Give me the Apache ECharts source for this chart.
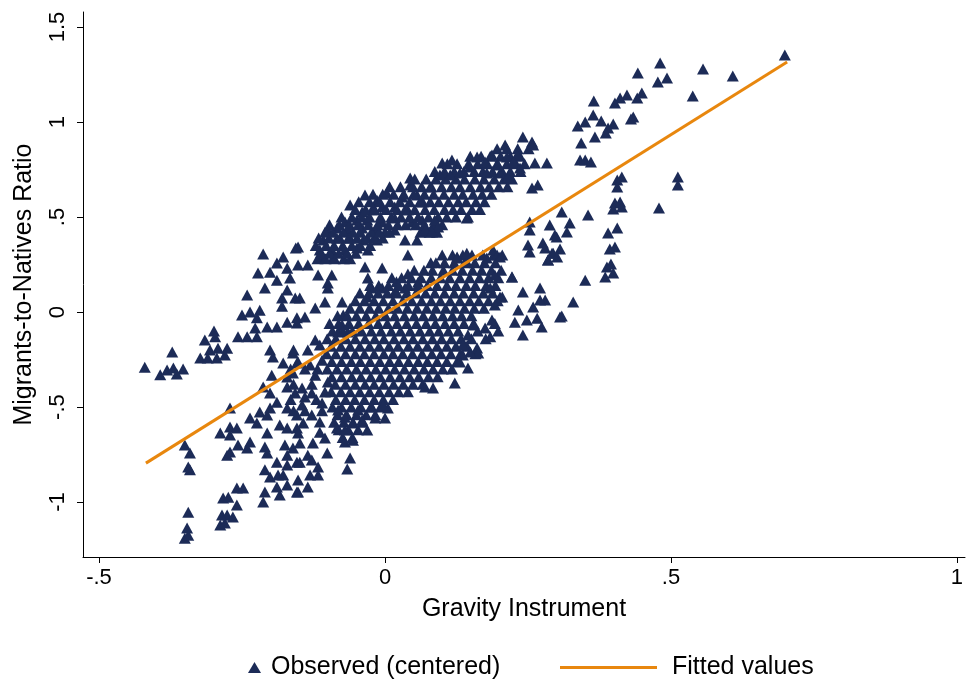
<!DOCTYPE html>
<html>
<head>
<meta charset="utf-8">
<script src="https://cdn.jsdelivr.net/npm/echarts@6/dist/echarts.min.js"></script>
<style>
  html, body { margin: 0; padding: 0; background: #fff; }
  #chart { width: 968px; height: 684px; }
</style>
</head>
<body>
<div id="chart"></div>
<script>
// observed points (x = gravity instrument, y = ratio)
const leftArm = [
  [-0.213,0.305],[-0.178,0.29],[-0.156,0.337],[-0.189,0.258],[-0.222,0.205],[-0.201,0.21],[-0.171,0.23],
  [-0.189,0.168],[-0.166,0.179],[-0.21,0.126],[-0.171,0.116],[-0.18,0.074],[-0.157,0.074],[-0.18,0.03],
  [-0.241,0.09],[-0.25,-0.016],[-0.236,0.0],[-0.219,0.01],[-0.224,-0.03],[-0.227,-0.084],[-0.206,-0.079],
  [-0.189,-0.079],[-0.171,-0.053],[-0.154,-0.03],[-0.257,-0.13],[-0.241,-0.13],[-0.224,-0.13],[-0.299,-0.1],
  [-0.315,-0.147],[-0.297,-0.13],[-0.306,-0.2],[-0.292,-0.19],[-0.276,-0.19],[-0.323,-0.242],[-0.31,-0.242],
  [-0.294,-0.242],[-0.28,-0.226],[-0.372,-0.21],[-0.42,-0.29],[-0.393,-0.33],[-0.381,-0.305],[-0.37,-0.295],
  [-0.353,-0.3],[-0.364,-0.326],[-0.201,-0.2],[-0.196,-0.237],[-0.178,-0.268],[-0.161,-0.216],[-0.154,-0.268],
  [-0.198,-0.332],[-0.171,-0.342],[-0.161,-0.321],[-0.213,-0.395],[-0.201,-0.426],[-0.171,-0.395],[-0.157,-0.426],
  [-0.16,-0.2],[-0.135,-0.2],[-0.165,-0.3],[-0.14,-0.3],[-0.118,-0.3],[-0.16,-0.38],[-0.128,-0.38],
  [-0.165,-0.46],[-0.12,-0.46],[-0.16,-0.52],[-0.14,-0.52],[-0.11,-0.52]
];
const lowerLeft = [
  [-0.35,-0.7],[-0.341,-0.742],[-0.341,-0.83],[-0.344,-0.816],[-0.344,-1.053],[-0.346,-1.137],[-0.35,-1.19],
  [-0.344,-1.174],[-0.288,-0.637],[-0.271,-0.605],[-0.271,-0.647],[-0.259,-0.61],[-0.276,-0.753],[-0.271,-0.737],
  [-0.257,-0.7],[-0.236,-0.684],[-0.241,-0.716],[-0.259,-0.926],[-0.248,-0.926],[-0.283,-0.979],[-0.274,-0.974],
  [-0.259,-1.016],[-0.285,-1.068],[-0.276,-1.068],[-0.266,-1.079],[-0.288,-1.121],[-0.28,-1.11],[-0.271,-0.505],
  [-0.236,-0.558],[-0.224,-0.584],[-0.219,-0.526],[-0.206,-0.542],[-0.201,-0.505],[-0.206,-0.637],[-0.21,-0.71],
  [-0.206,-0.742],[-0.21,-0.83],[-0.201,-0.868],[-0.187,-0.858],[-0.21,-0.947],[-0.213,-1.0],[-0.184,-0.963],
  [-0.178,-0.858],[-0.171,-0.91],[-0.154,-0.947],[-0.184,-0.595],[-0.189,-0.474],[-0.171,-0.505],[-0.154,-0.542],
  [-0.171,-0.61],[-0.154,-0.61],[-0.175,-0.7],[-0.161,-0.716],[-0.171,-0.753],[-0.154,-0.79],[-0.171,-0.805],
  [-0.189,-0.79],[-0.189,-0.921]
];
const upperBand = [
  [0.044,0.705],[0.044,0.668],[-0.035,0.616],[0.003,0.626],[-0.014,0.589],[0.03,0.605],[0.056,0.616],
  [0.066,0.579],[-0.061,0.563],[-0.04,0.526],[-0.023,0.537],[-0.005,0.553],[0.017,0.553],[0.04,0.537],
  [-0.07,0.474],[-0.049,0.484],[-0.031,0.484],[-0.005,0.474],[0.017,0.495],[0.047,0.474],[0.065,0.484],
  [-0.084,0.442],[-0.1,0.432],[-0.065,0.432],[-0.04,0.442],[-0.017,0.432],[0.0,0.421],[0.017,0.432],
  [-0.108,0.379],[-0.084,0.389],[-0.061,0.389],[-0.038,0.379],[-0.014,0.379],[0.035,0.379],[0.056,0.379],
  [-0.114,0.326],[-0.093,0.326],[-0.07,0.326],[-0.049,0.337],[-0.03,0.326],[0.04,0.3],[-0.152,0.342],
  [-0.108,0.284],[-0.091,0.284],[-0.135,0.247],[-0.152,0.247]
];
// the solid core of the upper band, row by row: [y, x values]
const upperCoreRows = [
  [0.28, [-0.118, -0.104, -0.088, -0.072, -0.061]],
  [0.31, [-0.112, -0.097, -0.081, -0.066, -0.051]],
  [0.35, [-0.121, -0.103, -0.089, -0.074, -0.058, -0.043, -0.026]],
  [0.39, [-0.116, -0.098, -0.079, -0.064, -0.049, -0.031, -0.019, -0.004]],
  [0.42, [-0.105, -0.091, -0.073, -0.056, -0.043, -0.024, -0.01, 0.008, 0.062, 0.078, 0.091]],
  [0.46, [-0.097, -0.08, -0.062, -0.047, -0.029, -0.013, 0.006, 0.022, 0.036, 0.054, 0.069, 0.085, 0.1]],
  [0.50, [-0.076, -0.058, -0.041, -0.027, -0.008, 0.011, 0.028, 0.043, 0.058, 0.076, 0.093, 0.108, 0.124]],
  [0.54, [-0.052, -0.034, -0.018, 0.002, 0.021, 0.035, 0.052, 0.07, 0.086, 0.104, 0.119, 0.133, 0.152, 0.166]],
  [0.58, [-0.046, -0.027, -0.009, 0.009, 0.026, 0.043, 0.061, 0.079, 0.094, 0.111, 0.128, 0.142, 0.159, 0.174]],
  [0.62, [-0.021, -0.004, 0.015, 0.033, 0.05, 0.069, 0.085, 0.103, 0.121, 0.136, 0.154, 0.17, 0.186]],
  [0.66, [0.008, 0.027, 0.049, 0.064, 0.081, 0.099, 0.116, 0.131, 0.149, 0.167, 0.182, 0.199, 0.214]],
  [0.70, [0.052, 0.072, 0.089, 0.106, 0.124, 0.139, 0.157, 0.173, 0.191, 0.208, 0.222]],
  [0.74, [0.087, 0.104, 0.121, 0.138, 0.156, 0.171, 0.188, 0.205, 0.219, 0.237]],
  [0.78, [0.109, 0.126, 0.146, 0.162, 0.179, 0.196, 0.213, 0.229, 0.244]],
  [0.82, [0.149, 0.168, 0.184, 0.202, 0.219, 0.236]],
  [0.86, [0.196, 0.213, 0.232, 0.251]]
];
const centralCloud = [
  [-0.1,0.153],[-0.1,0.126],[-0.117,0.195],[-0.093,0.195],[-0.075,0.053],[-0.105,0.053],[-0.122,0.021],
  [-0.149,0.074],[-0.14,-0.026],[-0.154,-0.058],[-0.03,0.179],[-0.031,0.079],[-0.005,0.126],[-0.023,0.126],
  [-0.005,0.232],[-0.035,0.237],[0.017,0.105],[0.035,0.126],[0.058,0.158],[-0.075,-0.068],[-0.082,-0.105],
  [-0.065,-0.105],[-0.122,-0.147],[-0.114,-0.174],[-0.11,-0.253],[-0.1,-0.368],[-0.105,-0.421],[-0.128,-0.426],
  [-0.145,-0.4],[-0.152,-0.263],[-0.14,-0.447],[-0.073,-0.016],[-0.131,-0.279],[-0.122,-0.332],
  [0.02,0.16],[0.04,0.2],[0.08,0.26],[0.1,0.3]
];
// the solid core of the lower cloud, row by row: [y, x values]
const lowerCoreRows = [
  [0.30, [0.118, 0.136, 0.152, 0.171, 0.19]],
  [0.26, [0.089, 0.104, 0.121, 0.139, 0.157, 0.174, 0.193]],
  [0.22, [0.051, 0.068, 0.083, 0.102, 0.118, 0.135, 0.153, 0.169, 0.186, 0.203]],
  [0.18, [0.012, 0.029, 0.046, 0.063, 0.081, 0.097, 0.113, 0.131, 0.148, 0.165, 0.181, 0.198]],
  [0.14, [-0.026, -0.011, 0.006, 0.024, 0.041, 0.057, 0.074, 0.091, 0.108, 0.124, 0.142, 0.158, 0.177, 0.193]],
  [0.10, [-0.044, -0.028, -0.012, 0.004, 0.021, 0.038, 0.054, 0.071, 0.087, 0.104, 0.121, 0.137, 0.155, 0.172, 0.188]],
  [0.06, [-0.052, -0.036, -0.019, -0.003, 0.014, 0.031, 0.047, 0.064, 0.081, 0.097, 0.114, 0.131, 0.148, 0.164, 0.181, 0.197]],
  [0.02, [-0.061, -0.044, -0.027, -0.011, 0.006, 0.022, 0.039, 0.056, 0.073, 0.089, 0.106, 0.122, 0.139, 0.156, 0.173]],
  [-0.02, [-0.083, -0.066, -0.05, -0.033, -0.016, 0.001, 0.017, 0.034, 0.051, 0.067, 0.084, 0.101, 0.118, 0.134, 0.151]],
  [-0.06, [-0.097, -0.081, -0.063, -0.046, -0.029, -0.012, 0.004, 0.021, 0.038, 0.055, 0.072, 0.088, 0.105, 0.121, 0.138, 0.155, 0.192]],
  [-0.10, [-0.092, -0.074, -0.057, -0.041, -0.024, -0.007, 0.011, 0.027, 0.044, 0.061, 0.078, 0.094, 0.111, 0.128, 0.162, 0.198]],
  [-0.14, [-0.101, -0.086, -0.068, -0.052, -0.035, -0.018, -0.002, 0.016, 0.033, 0.049, 0.066, 0.083, 0.099, 0.116, 0.133, 0.151, 0.176]],
  [-0.18, [-0.094, -0.077, -0.061, -0.044, -0.027, -0.01, 0.007, 0.023, 0.041, 0.057, 0.074, 0.091, 0.108, 0.124, 0.143]],
  [-0.22, [-0.102, -0.086, -0.069, -0.052, -0.036, -0.019, -0.002, 0.014, 0.031, 0.048, 0.065, 0.082, 0.098, 0.115, 0.132, 0.158]],
  [-0.26, [-0.093, -0.076, -0.059, -0.043, -0.026, -0.009, 0.008, 0.024, 0.041, 0.058, 0.074, 0.091, 0.108, 0.126]],
  [-0.30, [-0.101, -0.084, -0.067, -0.05, -0.033, -0.016, 0.001, 0.017, 0.034, 0.051, 0.068, 0.084, 0.101, 0.117]],
  [-0.34, [-0.093, -0.076, -0.058, -0.042, -0.025, -0.008, 0.009, 0.026, 0.043, 0.059, 0.076, 0.092]],
  [-0.38, [-0.087, -0.069, -0.052, -0.035, -0.019, -0.002, 0.015, 0.032, 0.049, 0.066]],
  [-0.42, [-0.094, -0.077, -0.061, -0.044, -0.027, -0.01, 0.007, 0.024, 0.04]],
  [-0.46, [-0.086, -0.069, -0.053, -0.036, -0.019, -0.003, 0.014]],
  [-0.50, [-0.092, -0.076, -0.059, -0.042, -0.025, -0.008]],
  [-0.54, [-0.083, -0.067, -0.05, -0.033, -0.017]],
  [-0.58, [-0.089, -0.072, -0.056, -0.039]],
  [-0.62, [-0.081, -0.064, -0.047]],
  [-0.66, [-0.074, -0.057]]
];
const lowerTail = [
  [-0.145,-0.489],[-0.11,-0.479],[-0.128,-0.542],[-0.114,-0.579],[-0.143,-0.584],[-0.152,-0.637],[-0.114,-0.632],
  [-0.105,-0.663],[-0.126,-0.689],[-0.149,-0.689],[-0.101,-0.742],[-0.135,-0.753],[-0.128,-0.779],[-0.149,-0.79],
  [-0.117,-0.816],[-0.131,-0.858],[-0.117,-0.858],[-0.152,-0.884],[-0.135,-0.921],[-0.152,-0.947],[-0.061,-0.768],
  [-0.066,-0.826],[-0.07,-0.684],[-0.056,-0.674],[-0.031,-0.621],[-0.082,-0.516],[-0.07,-0.553],[-0.084,-0.61],
  [-0.07,-0.621],[-0.056,-0.584],[-0.04,-0.568],[-0.017,-0.558],[0.0,-0.558],[-0.047,-0.516],[-0.023,-0.5],
  [0.005,-0.505],[-0.003,-0.489]
];
const upperRight = [
  [0.241,0.921],[0.257,0.895],[0.259,0.879],[0.21,0.879],[0.187,0.826],[0.161,0.816],[0.213,0.816],[0.231,0.826],
  [0.224,0.789],[0.175,0.789],[0.198,0.774],[0.117,0.8],[0.1,0.784],[0.262,0.784],[0.283,0.784],[0.149,0.763],
  [0.236,0.758],[0.131,0.732],[0.096,0.721],[0.114,0.721],[0.178,0.732],[0.201,0.732],[0.215,0.711],[0.079,0.658],
  [0.257,0.653],[0.267,0.668],[0.145,0.5],[0.087,0.484],[0.093,0.447],[0.07,0.432],[0.082,0.421],[0.143,0.495],
  [0.253,0.474],[0.253,0.432],[0.288,0.458],[0.3,0.395],[0.25,0.353],[0.253,0.316],[0.276,0.363],[0.28,0.337],
  [0.189,0.326],[0.196,0.3],[0.143,0.31],[0.126,0.29],[0.292,0.31]
];
const rightCloud = [
  [0.126,0.284],[0.143,0.263],[0.178,0.284],[0.201,0.29],[0.192,0.195],[0.222,0.184],[0.184,0.126],[0.201,0.079],
  [0.192,0.037],[0.241,0.105],[0.271,0.126],[0.28,0.063],[0.259,0.026],[0.233,0.011],[0.227,-0.053],[0.248,-0.042],
  [0.266,-0.032],[0.274,-0.079],[0.241,-0.121],[0.285,0.274],[0.306,-0.026],[0.187,-0.042],[0.175,-0.084],
  [0.184,-0.13],[0.154,-0.068],[0.145,-0.121],[0.161,-0.189],[0.163,-0.216],[0.149,-0.21],[0.136,-0.226],
  [0.145,-0.295],[0.131,-0.263],[0.122,-0.374],[0.084,-0.4],[0.07,-0.395],[0.136,-0.174]
];
const topRight = [
  [0.699,1.353],[0.556,1.279],[0.608,1.242],[0.481,1.311],[0.493,1.232],[0.477,1.211],[0.442,1.258],[0.538,1.137],
  [0.423,1.142],[0.411,1.126],[0.402,1.1],[0.449,1.153],[0.441,1.126],[0.365,1.111],[0.364,1.037],[0.35,1.0],
  [0.337,0.979],[0.378,1.005],[0.399,0.989],[0.39,0.968],[0.386,0.942],[0.434,1.026],[0.43,1.016],[0.367,0.921],
  [0.343,0.889],[0.341,0.8],[0.35,0.8],[0.36,0.79],[0.406,0.695],[0.414,0.711],[0.406,0.658],[0.512,0.711],
  [0.512,0.668],[0.402,0.574],[0.411,0.579],[0.399,0.542],[0.414,0.553],[0.479,0.547],[0.309,0.526],[0.355,0.511]
];
const farRight = [
  [0.323,0.468],[0.297,0.405],[0.318,0.421],[0.306,0.332],[0.294,0.31],[0.301,0.29],[0.285,0.274],[0.205,0.3],
  [0.222,0.184],[0.35,0.168],[0.39,0.416],[0.406,0.442],[0.393,0.332],[0.402,0.342],[0.388,0.237],[0.395,0.253],
  [0.399,0.205],[0.385,0.184],[0.205,0.079],[0.271,0.063],[0.329,0.053],[0.309,-0.021]
];

// fitted line end points
const fitX = [-0.418, 0.703];
const fitY = [-0.795, 1.316];

// tick labels
const xTicks = [-0.5, 0, 0.5, 1];
const yTicks = [-1, -0.5, 0, 0.5, 1, 1.5];

function fromRows (rows) {
  const out = [];
  rows.forEach(([y, xs]) => xs.forEach(x => out.push([x, y])));
  return out;
}

const observed = [].concat(leftArm, lowerLeft, upperBand, fromRows(upperCoreRows), centralCloud,
  fromRows(lowerCoreRows), lowerTail, upperRight, rightCloud, topRight, farRight);
const fitted = fitX.map((x, i) => [x, fitY[i]]);

const FONT = "'Liberation Sans', Arial, sans-serif";
const NAVY = '#1c2b57';
const ORANGE = '#e8870e';

// stata style: -.5 instead of -0.5
function fmt (v) {
  return String(v).replace('0.', '.');
}

const chart = echarts.init(document.getElementById('chart'));
chart.setOption({
  animation: false,
  backgroundColor: '#fff',
  grid: { left: 83, right: 3, top: 12, bottom: 127, containLabel: false },
  legend: [
    {
      data: [{ name: 'Observed (centered)', icon: 'triangle' }],
      left: 243, top: 650,
      itemWidth: 13, itemHeight: 11,
      textStyle: { fontFamily: FONT, fontSize: 25, color: '#000', padding: [0, 0, 0, 5] }
    },
    {
      data: [{ name: 'Fitted values', icon: 'rect' }],
      left: 555, top: 650,
      itemWidth: 97, itemHeight: 3,
      textStyle: { fontFamily: FONT, fontSize: 25, color: '#000', padding: [0, 0, 0, 10] }
    }
  ],
  xAxis: {
    type: 'value',
    min: -0.528, max: 1.014,
    name: 'Gravity Instrument',
    nameLocation: 'middle',
    nameGap: 40,
    nameTextStyle: { fontFamily: FONT, fontSize: 25, color: '#000' },
    axisLine: { onZero: false, lineStyle: { color: '#000', width: 1 } },
    axisTick: { customValues: xTicks, length: 6, lineStyle: { color: '#000' } },
    axisLabel: { customValues: xTicks, formatter: fmt, margin: 10, fontFamily: FONT, fontSize: 22, color: '#000' },
    splitLine: { show: false }
  },
  yAxis: {
    type: 'value',
    min: -1.289, max: 1.579,
    name: 'Migrants-to-Natives Ratio',
    nameLocation: 'middle',
    nameGap: 46,
    nameTextStyle: { fontFamily: FONT, fontSize: 25, color: '#000' },
    axisLine: { onZero: false, lineStyle: { color: '#000', width: 1 } },
    axisTick: { customValues: yTicks, length: 6, lineStyle: { color: '#000' } },
    axisLabel: { customValues: yTicks, formatter: fmt, rotate: 90, margin: 14, fontFamily: FONT, fontSize: 22, color: '#000' },
    splitLine: { show: false }
  },
  series: [
    {
      name: 'Observed (centered)',
      type: 'scatter',
      symbol: 'triangle',
      symbolSize: [12, 11],
      itemStyle: { color: NAVY, opacity: 1 },
      data: observed,
      z: 2
    },
    {
      name: 'Fitted values',
      type: 'line',
      symbol: 'none',
      lineStyle: { color: ORANGE, width: 3 },
      itemStyle: { color: ORANGE },
      data: fitted,
      z: 3
    }
  ]
});
</script>
</body>
</html>
